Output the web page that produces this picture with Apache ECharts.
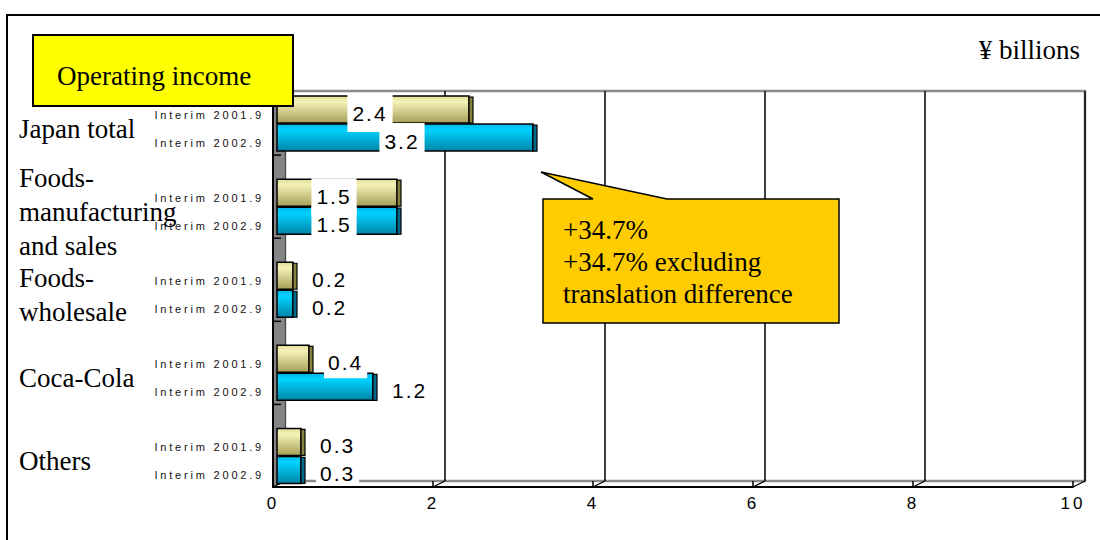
<!DOCTYPE html>
<html>
<head>
<meta charset="utf-8">
<title>Operating income</title>
<script src="https://cdn.jsdelivr.net/npm/echarts@6/dist/echarts.min.js"></script>
<style>
  html, body { margin: 0; padding: 0; background: #ffffff; }
  #chart { width: 1100px; height: 540px; }
</style>
</head>
<body>
<div id="chart"></div>
<script>
// Operating income by segment, ¥ billions
const categories = ['Japan total', 'Foods-\nmanufacturing\nand sales', 'Foods-\nwholesale', 'Coca-Cola', 'Others'];
const periods = ['Interim 2001.9', 'Interim 2002.9'];
const interim2001 = [2.4, 1.5, 0.2, 0.4, 0.3];
const interim2002 = [3.2, 1.5, 0.2, 1.2, 0.3];
const axisMin = 0;
const axisMax = 10;
const axisStep = 2;
const unitText = '¥ billions';
const titleText = 'Operating income';
const noteText = '+34.7%\n+34.7% excluding\ntranslation difference';

const SERIF = "'Liberation Serif', 'Times New Roman', serif";
const NARROW = "'Liberation Sans Narrow', 'Arial Narrow', 'Liberation Sans', Arial, sans-serif";

// bar fills: front face gradient + darker end face
const palettes = [
  { top: '#e2de96', mid: '#f5f2b8', bottom: '#a69e56', side: '#878140' },
  { top: '#00b4e4', mid: '#00d2ff', bottom: '#0084a6', side: '#006a8a' }
];

// pseudo-3D box: bars sit between a front plane and a back wall
const BAR_GRID = { left: 277, top: 82, width: 800, height: 415.5 };
const NAME_GRID = { left: 277, top: 87, width: 800, height: 415.5 };
const FRONT_GRID = { left: 273, top: 97, width: 800, height: 390 };
const BACK_GRID = { left: 285, top: 91, width: 800, height: 390 };

const chart = echarts.init(document.getElementById('chart'), null, { renderer: 'svg' });

function makeBarRenderer(seriesIdx) {
  return function (params, api) {
    const cat = api.value(1);
    const val = api.value(0);
    const p0 = api.coord([0, cat]);
    const p1 = api.coord([val, cat]);
    const h = 27;
    const yc = p0[1] + (seriesIdx === 0 ? -14 : 14);
    const x0 = p0[0];
    const x1 = p1[0];
    const pal = palettes[seriesIdx];
    const inside = val >= 1.5;
    return {
      type: 'group',
      children: [
        {
          type: 'rect',
          shape: { x: x0, y: yc - h / 2, width: x1 - x0, height: h },
          style: {
            fill: new echarts.graphic.LinearGradient(0, 0, 0, 1, [
              { offset: 0, color: pal.top },
              { offset: 0.22, color: pal.mid },
              { offset: 1, color: pal.bottom }
            ]),
            stroke: '#000', lineWidth: 1.5
          }
        },
        {
          type: 'rect',
          shape: { x: x1, y: yc - h / 2 + 1, width: 4, height: h - 1 },
          style: { fill: pal.side, stroke: '#000', lineWidth: 1.2 }
        },
        {
          type: 'text',
          z2: 5,
          style: {
            text: val.toFixed(1),
            x: inside ? (x0 + x1) / 2 - 3 : x1 + 15,
            y: yc + 4,
            align: inside ? 'center' : 'left',
            verticalAlign: 'middle',
            font: '21px ' + NARROW,
            fill: '#000',
            backgroundColor: '#ffffff',
            padding: inside ? [8, 8, 8, 8] : [5, 10, 5, 4]
          }
        },
        {
          type: 'text',
          style: {
            text: periods[seriesIdx],
            x: x0 - 13,
            y: yc + 5,
            align: 'right',
            verticalAlign: 'middle',
            font: '11px ' + NARROW,
            fill: '#111'
          }
        }
      ]
    };
  };
}

const option = {
  backgroundColor: '#ffffff',
  animation: false,
  grid: [
    Object.assign({ containLabel: false, show: false }, BAR_GRID),
    Object.assign({ containLabel: false, show: false }, FRONT_GRID),
    Object.assign({ containLabel: false, show: true, backgroundColor: '#ffffff',
      borderColor: '#8c8c8c', borderWidth: 2.5 }, BACK_GRID),
    Object.assign({ containLabel: false, show: false }, NAME_GRID)
  ],
  xAxis: [
    { gridIndex: 0, type: 'value', min: axisMin, max: axisMax, interval: axisStep, show: false },
    {
      gridIndex: 1, type: 'value', min: axisMin, max: axisMax, interval: axisStep,
      position: 'bottom', z: 6,
      axisLine: { show: true, lineStyle: { color: '#000', width: 2 } },
      axisTick: { show: true, inside: true, length: 6, lineStyle: { color: '#000', width: 1.5 } },
      axisLabel: { show: true, margin: 8, fontSize: 17, fontFamily: NARROW, color: '#000' },
      splitLine: { show: false }
    },
    {
      gridIndex: 2, type: 'value', min: axisMin, max: axisMax, interval: axisStep, z: 1,
      axisLine: { show: false }, axisTick: { show: false }, axisLabel: { show: false },
      splitLine: { show: true, lineStyle: { color: '#000', width: 1.5 } }
    },
    { gridIndex: 3, type: 'value', min: axisMin, max: axisMax, show: false }
  ],
  yAxis: [
    {
      gridIndex: 0, type: 'category', data: categories, inverse: true,
      axisLine: { show: false }, axisTick: { show: false }, splitLine: { show: false },
      axisLabel: { show: false }
    },
    {
      gridIndex: 1, type: 'value', min: 0, max: 1, z: 6,
      axisLine: { show: true, lineStyle: { color: '#000', width: 2 } },
      axisTick: { show: false }, axisLabel: { show: false }, splitLine: { show: false }
    },
    { gridIndex: 2, type: 'value', min: 0, max: 1, show: false, splitLine: { show: false } },
    {
      gridIndex: 3, type: 'category', data: categories, inverse: true,
      axisLine: { show: false }, axisTick: { show: false }, splitLine: { show: false },
      axisLabel: {
        interval: 0, align: 'left', margin: 258, fontFamily: SERIF, fontSize: 27,
        lineHeight: 34, color: '#000'
      }
    }
  ],
  series: [
    {
      name: periods[0], type: 'custom', coordinateSystem: 'cartesian2d',
      xAxisIndex: 0, yAxisIndex: 0, clip: false, z: 4,
      encode: { x: 0, y: 1 },
      renderItem: makeBarRenderer(0),
      data: interim2001.map(function (v, i) { return [v, i]; })
    },
    {
      name: periods[1], type: 'custom', coordinateSystem: 'cartesian2d',
      xAxisIndex: 0, yAxisIndex: 0, clip: false, z: 4,
      encode: { x: 0, y: 1 },
      renderItem: makeBarRenderer(1),
      data: interim2002.map(function (v, i) { return [v, i]; })
    }
  ]
};

chart.setOption(option);

// Decorations that follow the axes: floor ticks, left wall, boundary ticks
function buildGraphics() {
  const els = [];
  const frontBottom = FRONT_GRID.top + FRONT_GRID.height;
  const backBottom = BACK_GRID.top + BACK_GRID.height;

  // outer frame
  els.push({ type: 'rect', z: 0, silent: true,
    shape: { x: 7, y: 15, width: 1120, height: 560 },
    style: { fill: 'none', stroke: '#000', lineWidth: 2 } });

  // left wall
  els.push({ type: 'polygon', z: 3, silent: true,
    shape: { points: [[FRONT_GRID.left, FRONT_GRID.top], [BACK_GRID.left, BACK_GRID.top],
      [BACK_GRID.left, backBottom], [FRONT_GRID.left, frontBottom]] },
    style: { fill: '#858585', stroke: '#6e6e6e', lineWidth: 1 } });

  // floor ticks joining front axis to back wall
  for (let v = axisMin; v <= axisMax; v += axisStep) {
    const fx = chart.convertToPixel({ xAxisIndex: 1 }, v);
    const bx = chart.convertToPixel({ xAxisIndex: 2 }, v);
    els.push({ type: 'line', z: 3, silent: true,
      shape: { x1: fx, y1: frontBottom, x2: bx, y2: backBottom },
      style: { stroke: '#000', lineWidth: 1.3 } });
  }

  // category boundary ticks on the left wall
  for (let i = 1; i < categories.length; i++) {
    const ya = chart.convertToPixel({ yAxisIndex: 0 }, i - 1);
    const yb = chart.convertToPixel({ yAxisIndex: 0 }, i);
    const y = (ya + yb) / 2 - 10;
    els.push({ type: 'line', z: 3, silent: true,
      shape: { x1: FRONT_GRID.left, y1: y, x2: FRONT_GRID.left + 8, y2: y },
      style: { stroke: '#000', lineWidth: 1.5 } });
  }

  // title box
  els.push({ type: 'rect', z: 8, silent: true,
    shape: { x: 33, y: 35, width: 260, height: 71 },
    style: { fill: '#ffff00', stroke: '#000', lineWidth: 2 } });
  els.push({ type: 'text', z: 9, silent: true,
    style: { text: titleText, x: 57, y: 75.5, align: 'left', verticalAlign: 'middle',
      font: '27px ' + SERIF, fill: '#000' } });

  // unit
  els.push({ type: 'text', z: 9, silent: true,
    style: { text: unitText, x: 1080, y: 50, align: 'right', verticalAlign: 'middle',
      font: '27px ' + SERIF, fill: '#000' } });

  // growth callout
  els.push({ type: 'polygon', z: 8, silent: true,
    shape: { points: [[543, 199], [593, 199], [541, 172], [667, 199], [839, 199], [839, 323], [543, 323]] },
    style: { fill: '#ffcc00', stroke: '#000', lineWidth: 1.5 } });
  els.push({ type: 'text', z: 9, silent: true,
    style: { text: noteText, x: 563, y: 214, align: 'left', verticalAlign: 'top',
      font: '27px ' + SERIF, lineHeight: 32, fill: '#000' } });

  return els;
}

chart.setOption({ graphic: { elements: buildGraphics() } });

// widen tracking on the sans-serif figures and period names
function applyTracking() {
  document.querySelectorAll('#chart svg text').forEach(function (t) {
    const s = (t.textContent || '').trim();
    if (s.indexOf('Interim') === 0) {
      t.style.letterSpacing = '2.8px';
    } else if (/^[0-9.]+$/.test(s)) {
      t.style.letterSpacing = s.length > 2 ? '2px' : '3px';
    }
  });
}
chart.on('finished', applyTracking);
applyTracking();
setTimeout(applyTracking, 50);
</script>
</body>
</html>
